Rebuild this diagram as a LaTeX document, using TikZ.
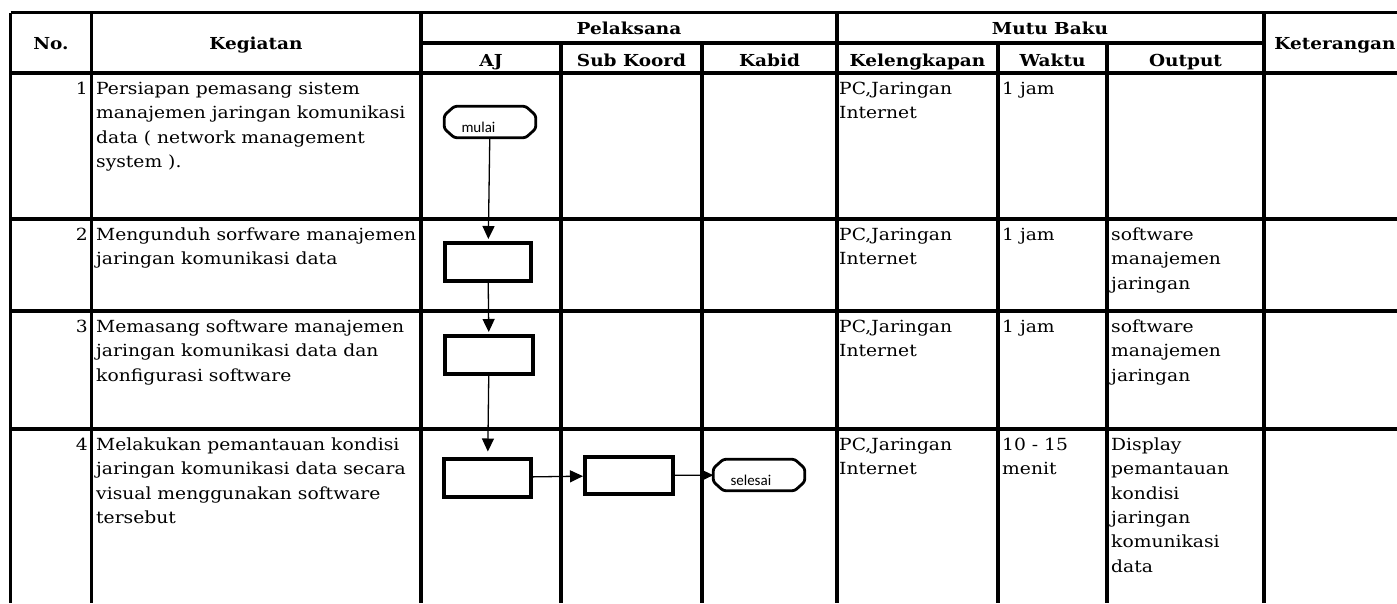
\documentclass[tikz,border=0pt]{standalone}
\usepackage{fontspec}
\setmainfont{DejaVu Serif}[FakeStretch=1.12]
\newfontfamily\termfont{Carlito}
\usetikzlibrary{arrows.meta}
\newcommand{\bodyfont}{\fontsize{16.7}{24.4}\selectfont}
\newcommand{\headfont}{\fontsize{16.5}{20}\selectfont\bfseries}
\newcommand{\termoutline}[1]{%
  \draw[termline] ([xshift=10pt]#1.north west) -- ([xshift=-10pt]#1.north east)
    -- ([yshift=-9pt]#1.north east) -- ([yshift=9pt]#1.south east)
    -- ([xshift=-10pt]#1.south east) -- ([xshift=10pt]#1.south west)
    -- ([yshift=9pt]#1.south west) -- ([yshift=-9pt]#1.north west) -- cycle;}
\begin{document}
\begin{tikzpicture}[x=1pt,y=-1pt,
  tline/.style={line width=3.2pt},
  cell/.style={anchor=north west,inner sep=0pt,align=left,font=\bodyfont},
  num/.style={anchor=north east,inner sep=0pt,font=\bodyfont},
  head/.style={anchor=base,inner sep=0pt,font=\headfont},
  procbox/.style={rectangle,draw,line width=4pt,inner sep=0pt,minimum width=87pt,minimum height=38pt},
  term/.style={rectangle,inner sep=0pt,minimum width=91pt,minimum height=31pt,
    text width=57pt,align=left,text height=20pt,text depth=0pt,
    font=\termfont\fontsize{15}{18}\selectfont},
  termline/.style={line width=2.8pt,rounded corners=2.5pt},
  conn/.style={line width=1.3pt,-{Triangle[length=13pt,width=12pt]}}
]
\useasboundingbox (0,0) rectangle (1397,603);
% table lines
\draw[tline] (10.5,12.5) -- (1397,12.5);
\draw[tline] (421,43) -- (1264,43);
\foreach \yy in {73,219,311,429} \draw[tline] (10.5,\yy) -- (1397,\yy);
\foreach \xx in {10.5,91.5,421,837,1264} \draw[tline] (\xx,12.5) -- (\xx,603);
\foreach \xx in {561,702,998,1107} \draw[tline] (\xx,43) -- (\xx,603);
% headers
\node[head] (hno) at (51,49) {No.};
\node[head] (hkeg) at (256,49) {Kegiatan};
\node[head] (hpel) at (629,34.5) {Pelaksana};
\node[head] (haj) at (491,66.5) {AJ};
\node[head] (hsub) at (631.5,66.5) {Sub Koord};
\node[head] (hkab) at (769.5,66.5) {Kabid};
\node[head] (hmutu) at (1050,34.5) {Mutu Baku};
\node[head] (hkel) at (917.5,66.5) {Kelengkapan};
\node[head] (hwak) at (1052.5,66.5) {Waktu};
\node[head] (hout) at (1185.5,66.5) {Output};
\node[head] (hket) at (1335,49) {Keterangan};
% row 1
\node[num] (n1) at (88,77) {\strut 1};
\node[cell] (k1) at (96,77) {\strut Persiapan pemasang sistem\\manajemen jaringan komunikasi\\data ( network management\\system ).};
\node[cell] (l1) at (839,77) {\strut PC,Jaringan\\Internet};
\node[cell] (w1) at (1002,77) {\strut 1 jam};
% row 2
\node[num] (n2) at (88,223) {\strut 2};
\node[cell] (k2) at (96,223) {\strut Mengunduh sorfware manajemen\\jaringan komunikasi data};
\node[cell] (l2) at (839,223) {\strut PC,Jaringan\\Internet};
\node[cell] (w2) at (1002,223) {\strut 1 jam};
\node[cell] (o2) at (1111,223) {\strut software\\manajemen\\jaringan};
% row 3
\node[num] (n3) at (88,315) {\strut 3};
\node[cell] (k3) at (96,315) {\strut Memasang software manajemen\\jaringan komunikasi data dan\\konfigurasi software};
\node[cell] (l3) at (839,315) {\strut PC,Jaringan\\Internet};
\node[cell] (w3) at (1002,315) {\strut 1 jam};
\node[cell] (o3) at (1111,315) {\strut software\\manajemen\\jaringan};
% row 4
\node[num] (n4) at (88,433) {\strut 4};
\node[cell] (k4) at (96,433) {\strut Melakukan pemantauan kondisi\\jaringan komunikasi data secara\\visual menggunakan software\\tersebut};
\node[cell] (l4) at (839,433) {\strut PC,Jaringan\\Internet};
\node[cell] (w4) at (1002,433) {\strut 10 - 15\\menit};
\node[cell] (o4) at (1111,433) {\strut Display\\pemantauan\\kondisi\\jaringan\\komunikasi\\data};
% flow
\node[term] (mulai) at (490,122) {mulai};
\termoutline{mulai}
\node[procbox,minimum width=86pt] (A2) at (488,262) {};
\node[procbox,minimum width=88pt] (A3) at (489,355) {};
\node[procbox] (A4) at (487.5,477.5) {};
\node[procbox,minimum width=88pt,minimum height=37pt] (S4) at (629,475.5) {};
\node[term] (selesai) at (759,475) {selesai};
\termoutline{selesai}
\draw[conn,shorten >=2pt] (mulai) -- (A2);
\draw[conn,shorten >=2pt] (A2) -- (A3);
\draw[conn,shorten >=5pt] (A3) -- (A4);
\draw[conn] (A4) -- (S4);
\draw[conn] (S4) -- (selesai);
\end{tikzpicture}
\end{document}
